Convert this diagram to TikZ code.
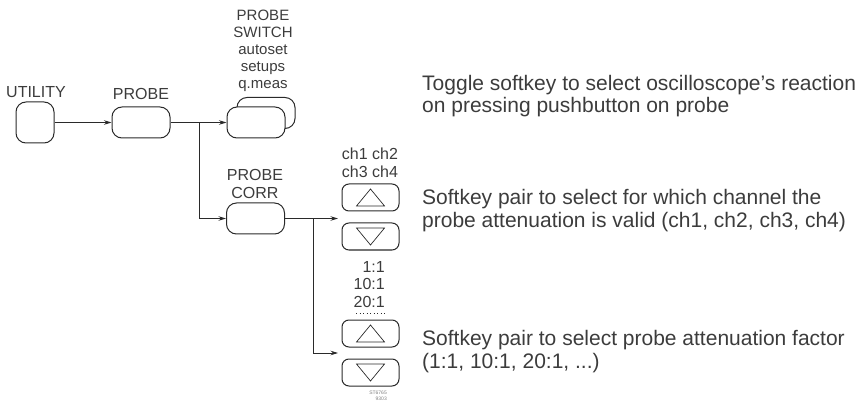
\documentclass[tikz,border=0pt]{standalone}
\usepackage{fontspec}
\setmainfont{Liberation Sans}
\usetikzlibrary{arrows.meta}
\definecolor{ink}{HTML}{2A2A2A}
\definecolor{txt}{HTML}{3C3C3C}
\tikzset{
	key/.style={draw=ink, line width=1pt, rounded corners=10pt, minimum width=58pt, minimum height=31pt, inner sep=0pt, fill=white},
	softkey/.style={draw=ink, line width=1pt, rounded corners=7pt, minimum width=57pt, minimum height=27pt, inner sep=0pt},
	conn/.style={draw=ink, line width=0.8pt, -{Stealth[length=7.5pt,width=4.5pt]}},
	lbl/.style={text=txt, font=\fontsize{16}{17.5}\selectfont, align=center, inner sep=0pt},
	note/.style={text=txt, font=\fontsize{21}{22.5}\selectfont, align=left, anchor=west, inner sep=0pt}
}
\begin{document}
\begin{tikzpicture}[x=1pt,y=-1pt]
	\useasboundingbox (0,0) rectangle (863,409);
	
	% menu keys
	\node[key, minimum width=38pt, minimum height=41pt] (utility) at (35,122.5) {};
	\node[key] (probe) at (141,122.5) {};
	\node[key] (switchback) at (266,113) {};
	\node[key] (switchfront) at (256,122.5) {};
	\node[key] (corr) at (255.5,218.5) {};
	
	\node[lbl] (utilitylbl) at (36,92) {UTILITY};
	\node[lbl] (probelbl) at (141,94) {PROBE};
	\node[lbl, anchor=south, font=\fontsize{15}{17}\selectfont] (switchlbl) at (263,92) {PROBE\\SWITCH\\autoset\\setups\\q.meas};
	\node[lbl] (corrlbl) at (255,184) {PROBE\\CORR};
	
	% softkey pairs
	\node[softkey] (up1) at (370.5,197.5) {};
	\node[softkey] (down1) at (370.5,236.5) {};
	\node[softkey] (up2) at (370.5,333.5) {};
	\node[softkey] (down2) at (370.5,372.5) {};
	\foreach \k in {up1,up2}
		\draw[ink, line width=0.7pt, shift={(\k)}] (-14,8.5) -- (14,8.5) -- (0,-8.5) -- cycle;
	\foreach \k in {down1,down2}
		\draw[ink, line width=0.7pt, shift={(\k)}] (-14,-8.5) -- (14,-8.5) -- (0,8.5) -- cycle;
	
	\node[lbl] (chlbl) at (370,163) {ch1 ch2\\ch3 ch4};
	\node[lbl, align=right, anchor=east] (factlbl) at (385,284.5) {1:1\\10:1\\20:1};
	\draw[ink, line width=0.8pt, dash pattern=on 0.9pt off 2.6pt] (356,313) -- (386,313);
	
	% connectors
	\coordinate (br1) at (199,122.5);
	\coordinate (br2) at (313,218.5);
	\coordinate (in1) at (338,218.5);
	\coordinate (in2) at (338,353);
	\draw[conn] (utility) -- (probe);
	\draw[conn] (probe) -- (switchfront);
	\draw[conn] (br1) |- (corr.west);
	\draw[conn] (corr) -- (in1);
	\draw[conn] (br2) |- (in2);
	
	% explanations
	\node[note] (switchnote) at (422,96) {Toggle softkey to select oscilloscope’s reaction\\on pressing pushbutton on probe};
	\node[note] (chnote) at (422,210.5) {Softkey pair to select for which channel the\\probe attenuation is valid (ch1, ch2, ch3, ch4)};
	\node[note] (factnote) at (422,351.5) {Softkey pair to select probe attenuation factor\\(1:1, 10:1, 20:1, ...)};
	
	\node[text=gray, font=\fontsize{5}{6}\selectfont, align=right, anchor=north east, inner sep=0pt] (stamp) at (387,391) {ST6765\\9303};
\end{tikzpicture}
\end{document}
